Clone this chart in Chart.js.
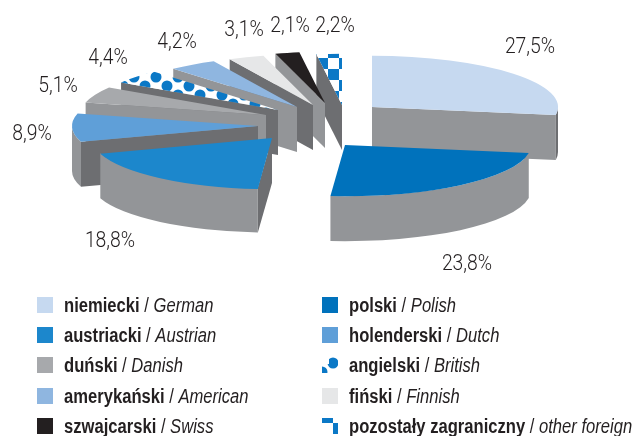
<!DOCTYPE html>
<html><head><meta charset="utf-8">
<style>html,body{margin:0;padding:0;background:#fff}canvas{display:block}</style>
<script src="https://cdn.jsdelivr.net/npm/chart.js@4"></script>
</head><body>
<div style="width:636px;height:436px"><canvas id="c" width="636" height="436"></canvas></div>
<script>
const categoriesPl = ["niemiecki","polski","austriacki","holenderski","duński","angielski","amerykański","fiński","szwajcarski","pozostały zagraniczny"];
const categoriesEn = ["German","Polish","Austrian","Dutch","Danish","British","American","Finnish","Swiss","other foreign"];
const values = [27.5,23.8,18.8,8.9,5.1,4.4,4.2,3.1,2.1,2.2];
const valueLabels = ["27,5%","23,8%","18,8%","8,9%","5,1%","4,4%","4,2%","3,1%","2,1%","2,2%"];

// styling
const BLUE='#0b78c6', DARK='#6d6e71', LIGHT='#939598', INK='#231f20';
const topColors=['#c6d9f0','#0072bc','#1c87cc','#5f9fd8','#a7a9ac',null,'#8fb6e0','#e6e7e8','#231f20',null];
const wallColors=[LIGHT,LIGHT,DARK,DARK,LIGHT,DARK,LIGHT,DARK,LIGHT,DARK];
const rimColors=[DARK,LIGHT,LIGHT,LIGHT,LIGHT,LIGHT,LIGHT,LIGHT,LIGHT,LIGHT];
const drawOrder=[9,8,7,6,5,4,3,2,0,1];
const explode=[[54,-11],[27,27],[-46,20],[-60,8],[-52,-3],[-40,-8],[-21,-11],[-5,-13],[7,-15],[24,-13]];
const radiusScale=[1,1,0.97,1,1,1,1,1,1,1];
const labelAt=[[530,45],[467,262],[110,239],[32,132],[58,84],[108,56],[177,40],[244,28],[290,24],[335,24]];
const legendCols=[0,1,0,1,0,1,0,1,0,1];
const legendRows=[0,0,1,1,2,2,3,3,4,4];
const TILT=0.275, DEPTH=45, PIE_Y=118, SQUEEZE=0.83;

function tile(w,h,draw){const t=document.createElement('canvas');t.width=w;t.height=h;const g=t.getContext('2d');draw(g);return t.getContext('2d').createPattern(t,'repeat');}
const dots=tile(22,18,g=>{g.fillStyle='#fff';g.fillRect(0,0,22,18);g.fillStyle=BLUE;
  [[0,0],[22,0],[0,18],[22,18],[11,9]].forEach(p=>{g.beginPath();g.arc(p[0],p[1],5.5,0,7);g.fill();});});
const checks=tile(22,22,g=>{g.fillStyle=BLUE;g.fillRect(0,0,22,22);g.fillStyle='#fff';g.fillRect(0,0,11,11);g.fillRect(11,11,11,11);});
const patternOf={5:{p:dots,sl:[145,86],sw:[333,363]},9:{p:checks,sl:[328,58],sw:[322,423]}};
function phase(pat,xy,ctx){pat.setTransform(ctx.getTransform().inverse().translate(xy[0],xy[1]));}

function squeezed(ctx,font,text,x,y,sq){
  ctx.save();ctx.font=font;ctx.translate(x,y);ctx.scale(sq,1);ctx.fillText(text,0,0);
  const w=ctx.measureText(text).width*sq;ctx.restore();return w;
}

const pie3d={id:'pie3d',
 beforeDatasetDraw(chart){
  const ctx=chart.ctx, arcs=chart.getDatasetMeta(0).data;
  drawOrder.forEach(i=>{
    const a=arcs[i],R=a.outerRadius*radiusScale[i],s=a.startAngle,e=a.endAngle;
    const ax=a.x+explode[i][0], ay=PIE_Y+explode[i][1];
    ctx.save();
    const wall=t=>{ctx.fillStyle=wallColors[i];ctx.beginPath();ctx.moveTo(ax,ay);
      ctx.lineTo(ax+R*Math.cos(t),ay+R*TILT*Math.sin(t));ctx.lineTo(ax+R*Math.cos(t),ay+DEPTH+R*TILT*Math.sin(t));
      ctx.lineTo(ax,ay+DEPTH);ctx.closePath();ctx.fill();};
    if(s>Math.PI/2) wall(s);
    if(e<Math.PI/2) wall(e);
    const f0=Math.max(s,0),f1=Math.min(e,Math.PI);
    if(f1>f0){ctx.fillStyle=rimColors[i];ctx.beginPath();ctx.ellipse(ax,ay,R,R*TILT,0,f0,f1);
      ctx.ellipse(ax,ay+DEPTH,R,R*TILT,0,f1,f0,true);ctx.closePath();ctx.fill();}
    ctx.translate(ax,ay);ctx.scale(radiusScale[i],TILT);ctx.translate(-a.x,-a.y);
    if(patternOf[i]) phase(patternOf[i].p,patternOf[i].sl,ctx);
    a.draw(ctx);
    ctx.restore();
  });
  return false;
 },
 afterDraw(chart){
  const ctx=chart.ctx;ctx.save();
  ctx.fillStyle=INK;ctx.textAlign='left';ctx.textBaseline='alphabetic';
  valueLabels.forEach((t,i)=>{
    const f='300 22px Roboto';ctx.font=f;
    const w=ctx.measureText(t).width*0.88;
    squeezed(ctx,f,t,labelAt[i][0]-w/2,labelAt[i][1]+8,0.88);
  });
  categoriesPl.forEach((n,i)=>{
    const x=37+285*legendCols[i], y=Math.round(297+30.2*legendRows[i]);
    if(patternOf[i]){phase(patternOf[i].p,patternOf[i].sw,ctx);ctx.fillStyle=patternOf[i].p;}
    else ctx.fillStyle=topColors[i];
    ctx.fillRect(x,y,16,16);
    if(i===5){ctx.fillStyle='#fff';ctx.fillRect(x,y,7,7);}
    ctx.fillStyle=INK;
    const tx=x+27,by=y+15;
    let cx=tx;
    cx+=squeezed(ctx,'bold 20px "Liberation Sans"',n,cx,by,SQUEEZE);
    cx+=squeezed(ctx,'20px "Liberation Sans"',' / ',cx,by,SQUEEZE);
    squeezed(ctx,'italic 20px "Liberation Sans"',categoriesEn[i],cx,by,SQUEEZE);
  });
  ctx.restore();
 }
};
const colors=topColors.map((c,i)=>c||patternOf[i].p);
new Chart(document.getElementById('c'),{
 type:'pie',
 data:{labels:categoriesEn,datasets:[{data:values,backgroundColor:colors,borderWidth:0}]},
 options:{responsive:false,animation:false,layout:{padding:{bottom:64}},
  plugins:{legend:{display:false},tooltip:{enabled:false}}},
 plugins:[pie3d]
});
</script></body></html>
